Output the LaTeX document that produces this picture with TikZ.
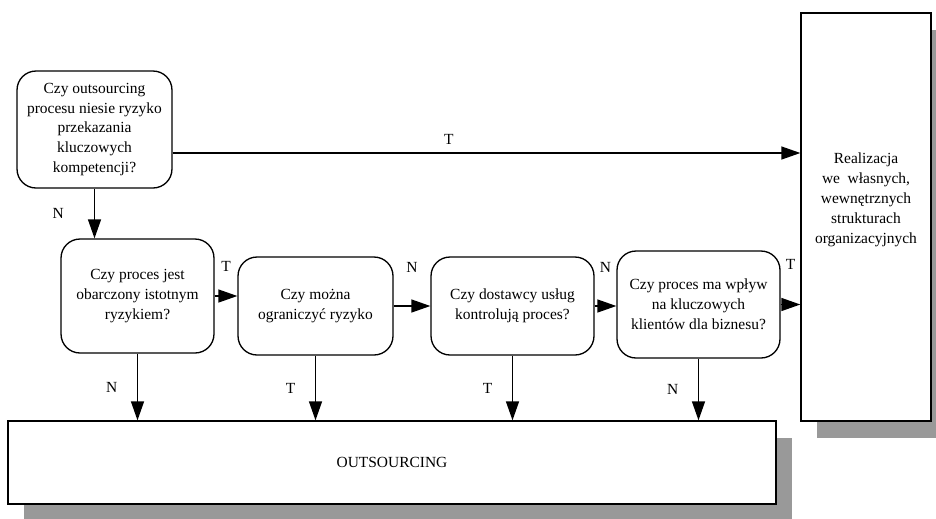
\documentclass[tikz,border=0pt]{standalone}
\usepackage{fontspec}
\setmainfont{Liberation Serif}
\usetikzlibrary{arrows.meta,positioning,shadows}
\definecolor{shadowgray}{RGB}{153,153,153}
\tikzset{
  qbox/.style={draw, line width=0.75pt, rounded corners=0.38cm, fill=white, align=center, font=\fontsize{8.8pt}{11.3pt}\selectfont},
  endbox/.style={draw, line width=0.75pt, fill=white, align=center, font=\fontsize{8.8pt}{11.3pt}\selectfont,
    drop shadow={shadow xshift=0.32cm, shadow yshift=-0.34cm, fill=shadowgray, opacity=1}},
  flow/.style={-{Triangle[length=0.38cm,width=0.26cm]}, line width=0.75pt},
  yn/.style={inner sep=0pt, font=\fontsize{8.8pt}{11pt}\selectfont}
}

\begin{document}
\begin{tikzpicture}[x=0.02cm, y=-0.02cm]
\useasboundingbox (0,0) rectangle (936,518);
% End boxes (right and bottom)
\node[endbox, minimum width=2.6cm, minimum height=8.16cm] (R) at (866,217) {};
\node[align=center, font=\fontsize{8.8pt}{11.3pt}\selectfont] (Rtext) at (866,200) {Realizacja\\we\ \ własnych,\\wewnętrznych\\strukturach\\organizacyjnych};
\node[endbox, minimum width=15.36cm, minimum height=1.66cm] (O) at (392,462.5) {OUTSOURCING};
% Questions
\node[qbox, minimum width=3.1cm, minimum height=2.34cm] (A) at (94.5,129.5) {Czy outsourcing\\procesu niesie ryzyko\\przekazania\\kluczowych\\kompetencji?};
\node[qbox, minimum width=3.06cm, minimum height=2.28cm] (B) at (137.5,296) {Czy proces jest\\obarczony istotnym\\ryzykiem?};
\node[qbox, minimum width=3.1cm, minimum height=1.96cm] (C) at (315.5,306) {Czy można\\ograniczyć ryzyko};
\node[qbox, minimum width=3.26cm, minimum height=1.96cm] (D) at (512.5,306) {Czy dostawcy usług\\kontrolują proces?};
\node[qbox, minimum width=3.26cm, minimum height=2.14cm] (E) at (698.5,304.5) {Czy proces ma wpływ\\na kluczowych\\klientów dla biznesu?};
% Connectors across
\draw[flow] (A.east) ++(0,23.5) coordinate (a1) -- (a1 -| R.west) node[yn, pos=0.44, above=0.16cm] {T};
\draw[flow] (A.south) -- (A.south |- B.north) node[yn, midway, left=0.6cm] {N};
\draw[flow] (B.east) -- (B.east -| C.west) node[yn, midway, above=0.48cm] {T};
\draw[flow] (C.east) -- (D.west) node[yn, midway, above=0.66cm] {N};
\draw[flow] (D.east) -- (D.east -| E.west) node[yn, midway, above=0.66cm] {N};
\draw[flow] (E.east) -- (E.east -| R.west) node[yn, midway, above=0.68cm] {T};
% Connectors down to OUTSOURCING
\draw[flow] (B.south) -- (B.south |- O.north) node[yn, midway, left=0.39cm] {N};
\draw[flow] (C.south) -- (C.south |- O.north) node[yn, midway, left=0.39cm] {T};
\draw[flow] (D.south) -- (D.south |- O.north) node[yn, midway, left=0.39cm] {T};
\draw[flow] (E.south) -- (E.south |- O.north) node[yn, midway, left=0.39cm] {N};
\end{tikzpicture}
\end{document}
